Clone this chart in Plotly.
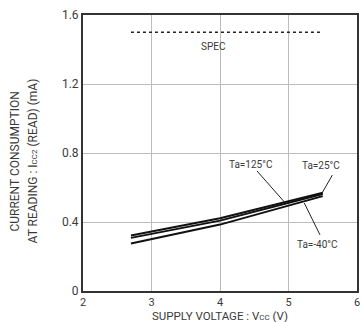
import plotly.graph_objects as go

# Data
vcc = [2.7, 4.0, 5.5]
i_125 = [0.322, 0.422, 0.57]
i_25 = [0.308, 0.408, 0.562]
i_m40 = [0.275, 0.385, 0.55]
spec_x = [2.7, 5.5]
spec_y = [1.5, 1.5]
x_ticks = [2, 3, 4, 5, 6]
x_tick_labels = ["2", "3", "4", "5", "6"]
y_ticks = [0, 0.4, 0.8, 1.2, 1.6]
y_tick_labels = ["0", "0.4", "0.8", "1.2", "1.6"]

FONT = "Roboto, Liberation Sans, sans-serif"
TXT = "#3a3a3a"

fig = go.Figure()
for ys in (i_125, i_25, i_m40):
    fig.add_trace(go.Scatter(x=vcc, y=ys, mode="lines",
                             line=dict(color="#111111", width=2), showlegend=False))
fig.add_trace(go.Scatter(x=spec_x, y=spec_y, mode="lines",
                         line=dict(color="#222222", width=1.5, dash="dot"), showlegend=False))

# labels and leader lines
fig.add_annotation(x=3.91, y=1.42, text="SPEC", showarrow=False,
                   font=dict(size=10, color=TXT, family=FONT))
fig.add_annotation(x=4.45, y=0.735, text="Ta=125°C", showarrow=False,
                   font=dict(size=10, color=TXT, family=FONT))
fig.add_annotation(x=5.47, y=0.725, text="Ta=25°C", showarrow=False,
                   font=dict(size=10, color=TXT, family=FONT))
fig.add_annotation(x=5.43, y=0.27, text="Ta=-40°C", showarrow=False,
                   font=dict(size=10, color=TXT, family=FONT))
for (x0, y0, x1, y1) in [(4.54, 0.696, 4.94, 0.516),
                         (5.64, 0.672, 5.49, 0.568),
                         (5.46, 0.325, 5.23, 0.51)]:
    fig.add_shape(type="line", x0=x0, y0=y0, x1=x1, y1=y1,
                  line=dict(color="#222222", width=1))

# axis titles
fig.add_annotation(xref="paper", yref="paper", x=0.5, y=-0.058, yanchor="top",
                   text="SUPPLY VOLTAGE : V<span style='font-size:8px'>CC</span> (V)",
                   showarrow=False, font=dict(size=11.5, color=TXT, family=FONT))
fig.add_annotation(xref="paper", yref="paper", x=-0.247, y=0.47, xanchor="center",
                   text="CURRENT CONSUMPTION", textangle=-90, showarrow=False,
                   font=dict(size=12, color=TXT, family=FONT))
fig.add_annotation(xref="paper", yref="paper", x=-0.182, y=0.47, xanchor="center",
                   text="AT READING : I<span style='font-size:8px'>CC2</span> (READ) (mA)",
                   textangle=-90, showarrow=False,
                   font=dict(size=12, color=TXT, family=FONT))

fig.update_layout(
    width=361, height=322, autosize=False,
    margin=dict(l=83, r=4, t=15, b=31, autoexpand=False),
    paper_bgcolor="white", plot_bgcolor="white",
    font=dict(family=FONT, size=12, color=TXT),
    xaxis=dict(range=[2, 6], tickvals=x_ticks, ticktext=x_tick_labels,
               showgrid=True, gridcolor="#bdbdbd", gridwidth=1,
               showline=True, linecolor="#333333", linewidth=2, mirror=True,
               ticks="", ticklabelstandoff=0, zeroline=False, automargin=False,
               tickfont=dict(size=11, color=TXT)),
    yaxis=dict(range=[0, 1.6], tickvals=y_ticks, ticktext=y_tick_labels,
               showgrid=True, gridcolor="#bdbdbd", gridwidth=1,
               showline=True, linecolor="#333333", linewidth=2, mirror=True,
               ticks="", zeroline=False, automargin=False,
               tickfont=dict(size=12, color=TXT)),
)

fig.write_html("out.html", config={"displayModeBar": False},
               post_script="document.body.style.margin='0';document.body.style.overflow='hidden';")
